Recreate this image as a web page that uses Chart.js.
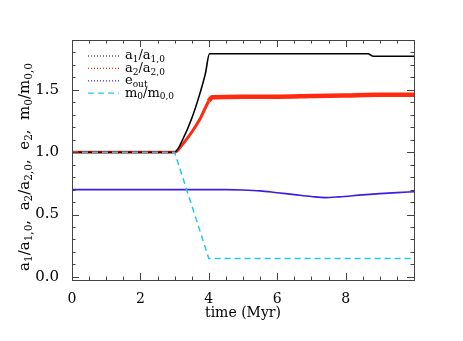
<!DOCTYPE html>
<html>
<head>
<meta charset="utf-8">
<script src="https://cdn.jsdelivr.net/npm/chart.js@4.4.1/dist/chart.umd.min.js"></script>
<style>
  body { margin: 0; background: #fff; }
  #wrap { width: 463px; height: 341px; }
</style>
</head>
<body>
<div id="wrap"><canvas id="myChart" width="463" height="341"></canvas></div>
<script>
// data

var a1Time = [0, 1, 2, 3, 3.25, 3.5, 3.75, 3.9, 4.02, 5, 6, 7, 8, 8.65, 8.8, 9, 10]
var a1Vals = [1.0, 1.0, 1.0, 1.0, 1.11, 1.27, 1.48, 1.63, 1.79, 1.79, 1.79, 1.79, 1.79, 1.79, 1.77, 1.77, 1.77]

var a2Time = [0, 1, 2, 3, 3.25, 3.5, 3.75, 4.0, 4.1, 5, 6, 7, 8, 9, 10]
var a2Vals = [1.0, 1.0, 1.0, 1.0, 1.07, 1.16, 1.27, 1.41, 1.44, 1.445, 1.445, 1.45, 1.455, 1.46, 1.46]

var eTime = [0, 1, 2, 3, 4, 4.5, 5, 5.5, 6, 6.5, 7, 7.4, 7.8, 8.5, 9, 9.5, 10]
var eVals = [0.70, 0.70, 0.70, 0.70, 0.70, 0.70, 0.697, 0.69, 0.675, 0.66, 0.645, 0.636, 0.642, 0.658, 0.668, 0.676, 0.683]

var mTime = [0, 1, 2, 3, 4, 5, 6, 7, 8, 9, 10]
var mVals = [1.0, 1.0, 1.0, 1.0, 0.148, 0.148, 0.148, 0.148, 0.148, 0.148, 0.148]

var xTickVals = [0, 2, 4, 6, 8]
var yTickVals = [0, 0.5, 1.0, 1.5]

var legendRows = [
	{ parts: [['a'], ['1', 1], ['/a'], ['1,0', 1]], color: '#000', dash: [1, 2] },
	{ parts: [['a'], ['2', 1], ['/a'], ['2,0', 1]], color: '#ff2a10', dash: [1, 2] },
	{ parts: [['e'], ['out', 1]], color: '#3c1ee0', dash: [1, 2] },
	{ parts: [['m'], ['0', 1], ['/m'], ['0,0', 1]], color: '#22c8f0', dash: [6, 4] }
]

var yTitle = [['a'], ['1', 1], ['/a'], ['1,0', 1], [',  a'], ['2', 1], ['/a'], ['2,0', 1], [',  e'], ['2', 1], [',  m'], ['0', 1], ['/m'], ['0,0', 1]]

function pts(t, v) {
	return t.map(function (x, i) { return { x: x, y: v[i] } })
}

var serif = '"DejaVu Serif", serif'

// draws text with subscripts, returns width
function richText(ctx, parts, x, y, size, subSize, measureOnly) {
	var cx = x
	parts.forEach(function (p) {
		var sub = p[1]
		ctx.font = (sub ? subSize : size) + 'px ' + serif
		if (!measureOnly) ctx.fillText(p[0], cx, sub ? y + size * 0.3 : y)
		cx += ctx.measureText(p[0]).width
	})
	return cx - x
}

var decor = {
	id: 'decor',
	afterDraw: function (chart) {
		var ctx = chart.ctx
		var a = chart.chartArea
		var xs = chart.scales.x
		var ys = chart.scales.y
		ctx.save()
		ctx.strokeStyle = '#444'
		ctx.lineWidth = 1
		ctx.strokeRect(a.left + 0.5, a.top + 0.5, a.right - a.left, a.bottom - a.top)
		ctx.beginPath()
		for (var i = 0; i <= 20; i++) {
			var px = Math.round(xs.getPixelForValue(i * 0.5)) + 0.5
			var len = i % 4 === 0 ? 7 : 3.5
			ctx.moveTo(px, a.bottom); ctx.lineTo(px, a.bottom - len)
			ctx.moveTo(px, a.top); ctx.lineTo(px, a.top + len)
		}
		for (var j = 0; j <= 18; j++) {
			var py = Math.round(ys.getPixelForValue(j * 0.1)) + 0.5
			var l2 = j % 5 === 0 ? 7 : 3.5
			ctx.moveTo(a.left, py); ctx.lineTo(a.left + l2, py)
			ctx.moveTo(a.right, py); ctx.lineTo(a.right - l2, py)
		}
		ctx.stroke()

		// legend
		ctx.fillStyle = '#000'
		ctx.textBaseline = 'middle'
		legendRows.forEach(function (r, k) {
			var y = 56 + k * 12.4
			ctx.beginPath()
			ctx.setLineDash(r.dash)
			ctx.strokeStyle = r.color
			ctx.lineWidth = 1.2
			ctx.moveTo(88, y); ctx.lineTo(119, y)
			ctx.stroke()
			ctx.setLineDash([])
			richText(ctx, r.parts, 125, y, 13, 9)
		})

		// axis titles
		ctx.textAlign = 'left'
		ctx.font = '14px ' + serif
		var xt = 'time (Myr)'
		ctx.fillText(xt, (a.left + a.right) / 2 - ctx.measureText(xt).width / 2, 313)

		ctx.translate(25, (a.top + a.bottom) / 2 + 7)
		ctx.rotate(-Math.PI / 2)
		var w = richText(ctx, yTitle, 0, 0, 15, 10.5, true)
		richText(ctx, yTitle, -w / 2, 0, 15, 10.5)
		ctx.restore()
	}
}

var ctx = document.getElementById('myChart').getContext('2d')
var chart = new Chart(ctx, {
	type: 'line',
	data: {
		datasets: [{
			label: 'm0/m0,0',
			data: pts(mTime, mVals),
			borderColor: '#22c8f0',
			borderWidth: 1.5,
			borderDash: [6, 4],
			tension: 0,
			order: 0
		},
		{
			label: 'a1/a1,0',
			data: pts(a1Time, a1Vals),
			borderColor: '#000',
			borderWidth: 1.6,
			cubicInterpolationMode: 'monotone',
			order: 1
		},
		{
			label: 'a2/a2,0',
			data: pts(a2Time, a2Vals),
			borderColor: '#ff2a10',
			borderWidth: 3,
			cubicInterpolationMode: 'monotone',
			segment: {
				borderWidth: function (c) {
					return c.p0.parsed.x < 4 ? 3 : 4.5
				}
			},
			order: 2
		},
		{
			label: 'eout',
			data: pts(eTime, eVals),
			borderColor: '#3c1ee0',
			borderWidth: 1.6,
			cubicInterpolationMode: 'monotone',
			order: 3
		}]
	},
	options: {
		responsive: false,
		animation: false,
		layout: { padding: { left: 0, right: 49, top: 40, bottom: 0 } },
		elements: { point: { radius: 0 } },
		plugins: { legend: { display: false }, tooltip: { enabled: false } },
		scales: {
			x: {
				type: 'linear',
				min: 0,
				max: 10,
				grid: { display: false },
				border: { display: false },
				afterFit: function (s) { s.height = 61 },
				afterBuildTicks: function (s) { s.ticks = xTickVals.map(function (v) { return { value: v } }) },
				ticks: { color: '#000', padding: 3, maxRotation: 0, font: { family: serif, size: 14 } }
			},
			y: {
				min: -0.025,
				max: 1.9,
				grid: { display: false },
				border: { display: false },
				afterFit: function (s) { s.width = 72 },
				afterBuildTicks: function (s) { s.ticks = yTickVals.map(function (v) { return { value: v } }) },
				ticks: {
					color: '#000', padding: 5, font: { family: serif, size: 15 },
					callback: function (v) { return v.toFixed(1) }
				}
			}
		}
	},
	plugins: [decor]
})
</script>
</body>
</html>
